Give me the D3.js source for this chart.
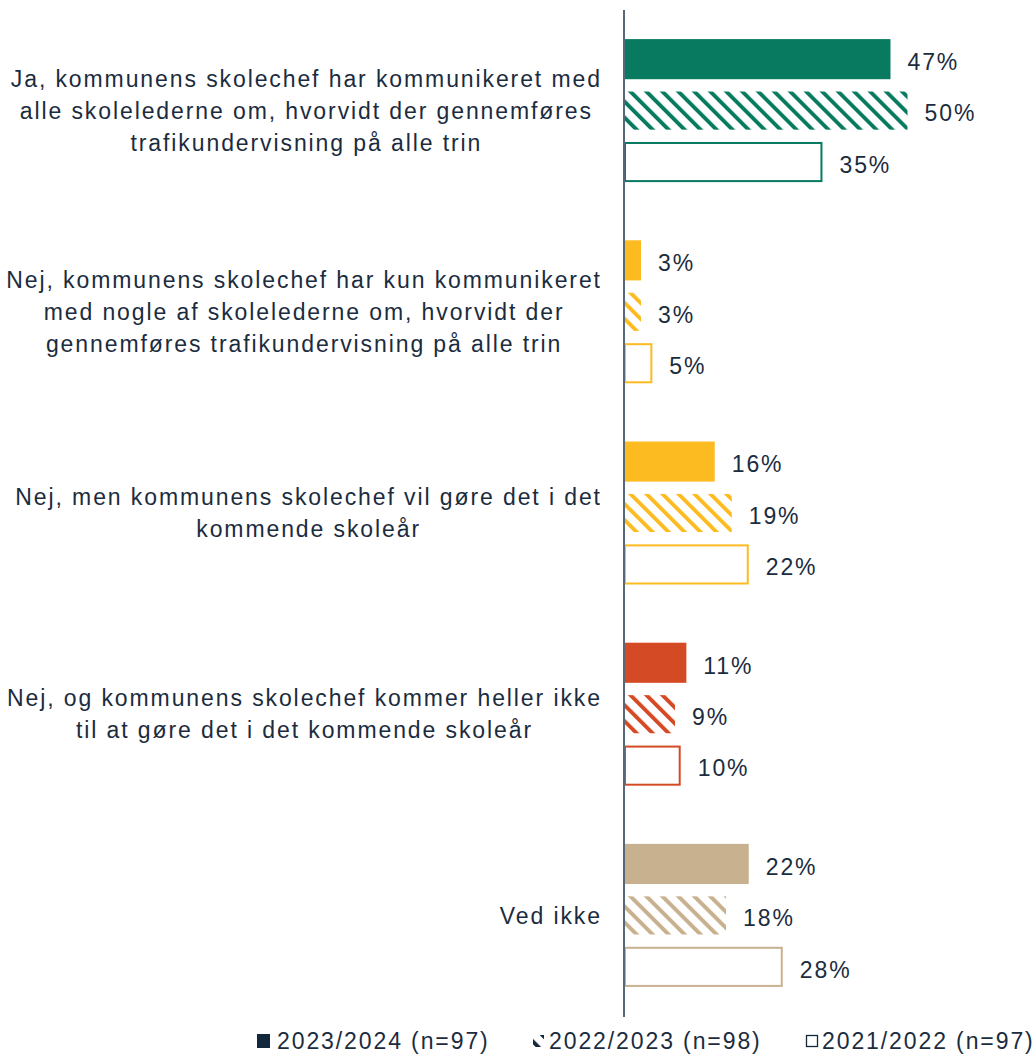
<!DOCTYPE html>
<html>
<head>
<meta charset="utf-8">
<script src="https://cdn.jsdelivr.net/npm/d3@7"></script>
<style>
  html, body { margin: 0; padding: 0; background: #fff; }
  svg { display: block; }
  text { font-family: "Liberation Sans", Arial, sans-serif; fill: #1b2c3e; }
</style>
</head>
<body>
<script>
const categoryLines = [
  ["Ja, kommunens skolechef har kommunikeret med", "alle skolelederne om, hvorvidt der gennemføres", "trafikundervisning på alle trin"],
  ["Nej, kommunens skolechef har kun kommunikeret", "med nogle af skolelederne om, hvorvidt der", "gennemføres trafikundervisning på alle trin"],
  ["Nej, men kommunens skolechef vil gøre det i det", "kommende skoleår"],
  ["Nej, og kommunens skolechef kommer heller ikke", "til at gøre det i det kommende skoleår"],
  ["Ved ikke"]
];
const categories = categoryLines.map(l => l.join(" "));
const seriesNames = ["2023/2024 (n=97)", "2022/2023 (n=98)", "2021/2022 (n=97)"];
const values2023_2024 = [47, 3, 16, 11, 22];
const values2022_2023 = [50, 3, 19, 9, 18];
const values2021_2022 = [35, 5, 22, 10, 28];
const seriesValues = [values2023_2024, values2022_2023, values2021_2022];

const catColors = ["#077a60", "#fcbb21", "#fcbb21", "#d44a24", "#c8b18e"];
const navy = "#13283d";
const W = 1035, H = 1055;

const svg = d3.select("body").append("svg").attr("width", W).attr("height", H);
const defs = svg.append("defs");

function hatch(id, color) {
  const p = defs.append("pattern").attr("id", id)
    .attr("patternUnits", "userSpaceOnUse")
    .attr("width", 11.3).attr("height", 11.3)
    .attr("patternTransform", "rotate(-45)");
  p.append("rect").attr("width", 11.3).attr("height", 11.3).attr("fill", "#fff");
  p.append("rect").attr("x", 0).attr("y", 0).attr("width", 3.9).attr("height", 11.3).attr("fill", color);
}
catColors.forEach((c, i) => hatch("hatch" + i, c));
hatch("hatchLegend", navy);

const x = d3.scaleLinear().domain([0, 100]).range([624, 1191]);
const y0 = d3.scaleBand().domain(categories).range([10, 1016]);
const y1 = d3.scaleBand().domain(seriesNames).range([0, 143]).paddingInner(0.22);
const groupOffset = (y0.bandwidth() - 143) / 2;

const fs = 23, ls = 1.9;

const groups = svg.append("g").selectAll("g").data(categories).join("g")
  .attr("transform", d => `translate(0,${y0(d) + groupOffset})`);

groups.each(function(cat, ci) {
  const g = d3.select(this);
  seriesNames.forEach((s, si) => {
    const v = seriesValues[si][ci];
    const yy = y1(s), h = y1.bandwidth();
    const w = x(v) - x(0);
    if (si === 0) {
      g.append("rect").attr("x", x(0)).attr("y", yy).attr("width", w).attr("height", h)
        .attr("fill", catColors[ci]);
    } else if (si === 1) {
      g.append("rect").attr("x", x(0)).attr("y", yy + 1).attr("width", w).attr("height", h - 2)
        .attr("fill", `url(#hatch${ci})`);
    } else {
      g.append("rect").attr("x", x(0) + 1).attr("y", yy + 1).attr("width", w - 2).attr("height", h - 2)
        .attr("fill", "#fff").attr("stroke", catColors[ci]).attr("stroke-width", 2);
    }
    g.append("text").attr("x", x(v) + 17).attr("y", yy + h / 2 + 2.5).attr("dy", "0.36em")
      .attr("font-size", fs).attr("letter-spacing", ls).text(v + "%");
  });
});

// category labels (centered block, right-aligned at x=600)
const lineH = 32;
categoryLines.forEach((lines, ci) => {
  const cy = y0(categories[ci]) + y0.bandwidth() / 2;
  const g = svg.append("g");
  const texts = lines.map((ln, li) => g.append("text")
    .attr("y", cy + (li - (lines.length - 1) / 2) * lineH).attr("dy", "0.36em")
    .attr("font-size", fs).attr("letter-spacing", ls).attr("text-anchor", "middle").text(ln));
  const maxW = d3.max(texts, t => t.node().getComputedTextLength()) - ls;
  const cx = 600 - maxW / 2;
  texts.forEach(t => t.attr("x", cx + ls / 2));
});

// axis line
svg.append("line").attr("x1", 624).attr("x2", 624).attr("y1", 10).attr("y2", 1017)
  .attr("stroke", "#56687a").attr("stroke-width", 2);

// legend
const legendX = [257, 533, 806];
const legendY = 1041;
seriesNames.forEach((s, si) => {
  const lx = legendX[si];
  if (si === 0) {
    svg.append("rect").attr("x", lx).attr("y", legendY - 7).attr("width", 13).attr("height", 14).attr("fill", navy);
  } else if (si === 1) {
    svg.append("rect").attr("x", lx).attr("y", legendY - 6).attr("width", 11).attr("height", 12).attr("fill", "url(#hatchLegend)");
  } else {
    svg.append("rect").attr("x", lx + 0.5).attr("y", legendY - 5.5).attr("width", 11).attr("height", 11)
      .attr("fill", "#fff").attr("stroke", navy).attr("stroke-width", 1.3);
  }
  svg.append("text").attr("x", lx + (si === 0 ? 20 : 16)).attr("y", legendY).attr("dy", "0.36em")
    .attr("font-size", fs).attr("letter-spacing", ls).text(s);
});
</script>
</body>
</html>
